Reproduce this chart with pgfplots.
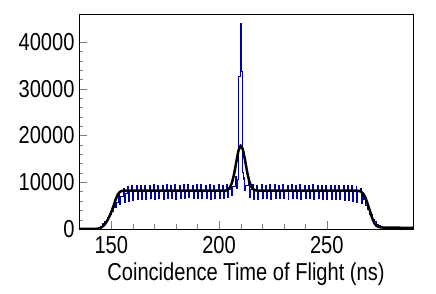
\documentclass[border=0pt]{standalone}
\usepackage{fontspec}
\setmainfont{Liberation Sans}[FakeStretch=0.82]
\usepackage{pgfplots}
\pgfplotsset{compat=1.18}
\usepackage{pgfplotstable}
\definecolor{rootblue}{RGB}{0,0,165}

\pgfplotstableread{
x y
135 0
142 20
143 80
144 250
145 600
146 1100
147 1600
148 2400
149 3000
150 3800
151 4600
151.55 6200
152 4600
152.45 5600
153.55 7600
154 5300
154.45 7000
155.55 8600
156 5600
156.45 7700
157.55 9000
158 5900
158.45 8000
159.55 9200
160 6100
160.45 8200
161.55 9300
162 6300
162.45 8200
163.55 9200
164 6400
164.45 8200
165.55 9400
166 6300
166.45 8200
167.55 9300
168 6500
168.45 8200
169.55 9500
170 6400
170.45 8200
171.55 9400
172 6500
172.45 8200
173.55 9300
174 6400
174.45 8200
175.55 9500
176 6600
176.45 8200
177.55 9400
178 6500
178.45 8200
179.55 9600
180 6400
180.45 8200
181.55 9400
182 6600
182.45 8200
183.55 9500
184 6500
184.45 8200
185.55 9600
186 6700
186.45 8200
187.55 9400
188 6500
188.45 8200
189.55 9500
190 6600
190.45 8200
191.55 9600
192 6500
192.45 8200
193.55 9400
194 6600
194.45 8200
195.55 9500
196 6400
196.45 8200
197.55 9400
198 6500
198.45 8200
199.55 9500
200 6600
200.45 8200
201.55 9400
202 6500
202.45 8300
203.55 9600
204 6700
204.45 8500
205.55 10000
206 7100
206.45 9000
207.55 11200
208 8600
208.45 10500
209.0 32600
209.8 44000
210.6 33700
211.0 12000
211.4 10600
211.55 11000
212 8200
212.45 9400
213.55 9900
214 6800
214.45 8500
215.55 9500
216 6300
216.45 8200
217.55 9400
218 6400
218.45 8200
219.55 9600
220 6500
220.45 8200
221.55 9400
222 6600
222.45 8200
223.55 9500
224 6400
224.45 8200
225.55 9600
226 6500
226.45 8200
227.55 9400
228 6600
228.45 8200
229.55 9500
230 6500
230.45 8200
231.55 9400
232 6400
232.45 8200
233.55 9500
234 6600
234.45 8200
235.55 9400
236 6500
236.45 8200
237.55 9500
238 6400
238.45 8200
239.55 9400
240 6600
240.45 8200
241.55 9300
242 6500
242.45 8200
243.55 9500
244 6400
244.45 8200
245.55 9400
246 6500
246.45 8200
247.55 9300
248 6400
248.45 8200
249.55 9400
250 6300
250.45 8200
251.55 9300
252 6400
252.45 8200
253.55 9400
254 6300
254.45 8200
255.55 9300
256 6300
256.45 8200
257.55 9300
258 6200
258.45 8200
259.55 9300
260 6000
260.45 8100
261.55 9200
262 5900
262.45 8100
263.55 9100
264 5700
264.45 8000
265.55 8700
266 5500
266.45 7500
267 6400
268 5100
269 4100
270 3000
271 2100
272 1500
273 1000
274 700
275 500
276 400
277 330
278 300
281 280
284 250
287 220
290 200
}\bluedata

\pgfplotstableread{
x y
135 0
142 0
143 30
144 100
145 250
146 550
147 1000
148 1700
149 2600
150 3600
151 4900
152 6300
153 7400
154 7950
155 8150
156 8200
203 8200
204 8410
205 8860
206 9910
207 11790
208 14350
209 16760
210 17890
211 17120
212 14880
213 12270
214 10215
215 9010
216 8466
217 8270
218 8200
264 8200
265 8150
266 7950
267 7500
268 6600
269 5300
270 3900
271 2400
272 1300
273 700
274 450
275 350
276 310
280 290
285 260
290 230
}\blackdata

\begin{document}
\begin{tikzpicture}
\begin{axis}[
  scale only axis,
  width=334pt, height=215pt,
  xmin=135, xmax=290, ymin=0, ymax=46000,
  xtick={150,200,250},
  ytick={0,10000,20000,30000,40000},
  minor x tick num=4,
  minor y tick num=4,
  tick align=inside,
  xtick pos=left, ytick pos=left,
  major tick length=8pt, minor tick length=4.5pt,
  scaled y ticks=false,
  /pgf/number format/assume math mode=true,
  /pgf/number format/fixed,
  /pgf/number format/1000 sep={},
  tick label style={font=\fontsize{24.5}{28}\selectfont},
  xticklabel style={yshift=-4pt},
  yticklabel style={xshift=-1pt},
  xlabel={Coincidence Time of Flight (ns)},
  xlabel style={font=\fontsize{24.5}{28}\selectfont, at={(axis description cs:0.5,0)}, anchor=center, yshift=-45pt},
  axis line style={line width=0.8pt},
  clip=true,
]
\addplot[const plot, color=rootblue, line width=1pt] table[x=x,y=y] {\bluedata};
\addplot[color=black, line width=2.5pt, line join=round] table[x=x,y=y] {\blackdata};
\end{axis}
\path ([shift={(-79pt,-65pt)}]current axis.south west) rectangle ([shift={(23pt,14pt)}]current axis.north east);
\end{tikzpicture}
\end{document}
